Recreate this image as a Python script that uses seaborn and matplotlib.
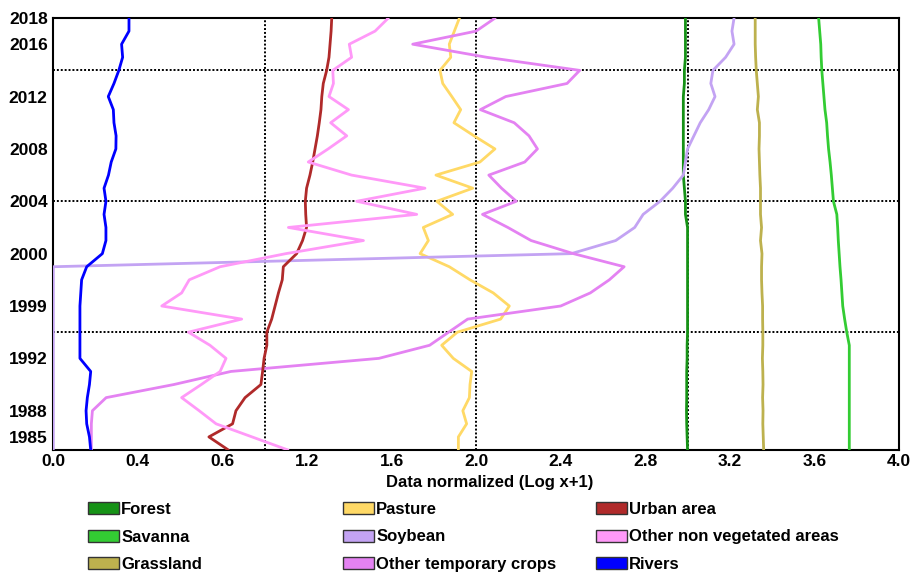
import pandas as pd
import seaborn as sns
import matplotlib.pyplot as plt
from matplotlib.patches import Patch

# === DATA (from 2018 back to 1985) ===
YEARS = list(range(2018, 1984, -1))

FOREST = [2.99, 2.99, 2.99, 2.99, 2.985, 2.985, 2.98, 2.98, 2.98, 2.98,
          2.98, 2.98, 2.98, 2.985, 2.99, 2.99, 3.0, 3.0, 3.0, 3.0,
          3.0, 3.0, 3.0, 3.0, 3.0, 2.998, 2.998, 2.996, 2.996, 2.996,
          2.995, 2.996, 2.998, 3.0]
SAVANNA = [3.62, 3.625, 3.63, 3.632, 3.635, 3.64, 3.645, 3.65, 3.658, 3.662,
           3.667, 3.674, 3.68, 3.685, 3.69, 3.706, 3.71, 3.713, 3.717, 3.721,
           3.726, 3.73, 3.734, 3.743, 3.753, 3.765, 3.765, 3.765, 3.765, 3.765,
           3.765, 3.765, 3.765, 3.765]
GRASSLAND = [3.32, 3.32, 3.32, 3.322, 3.325, 3.33, 3.335, 3.33, 3.34, 3.34,
             3.338, 3.34, 3.342, 3.345, 3.345, 3.345, 3.35, 3.345, 3.352, 3.35,
             3.35, 3.352, 3.355, 3.355, 3.356, 3.356, 3.354, 3.356, 3.357, 3.355,
             3.357, 3.356, 3.358, 3.36]
PASTURE = [1.921, 1.897, 1.873, 1.880, 1.829, 1.842, 1.885, 1.927, 1.895, 1.990,
           2.089, 2.018, 1.810, 1.984, 1.814, 1.889, 1.750, 1.774, 1.735, 1.873,
           1.971, 2.081, 2.157, 2.116, 1.911, 1.837, 1.892, 1.979, 1.971, 1.968,
           1.937, 1.955, 1.916, 1.916]
SOYBEAN = [3.22, 3.21, 3.22, 3.18, 3.12, 3.11, 3.13, 3.10, 3.06, 3.03,
           3.00, 2.99, 2.98, 2.93, 2.87, 2.79, 2.75, 2.66, 2.45, 0.0,
           0.0, 0.0, 0.0, 0.0, 0.0, 0.0, 0.0, 0.0, 0.0, 0.0,
           0.0, 0.0, 0.0, 0.0]
OTHER_TEMP_CROPS = [2.09, 2.00, 1.70, 2.05, 2.49, 2.43, 2.14, 2.02, 2.18, 2.25,
                    2.29, 2.23, 2.06, 2.12, 2.19, 2.03, 2.15, 2.26, 2.46, 2.70,
                    2.63, 2.54, 2.40, 1.96, 1.87, 1.78, 1.54, 0.84, 0.57, 0.25,
                    0.185, 0.18, 0.18, 0.18]
URBAN = [1.317, 1.314, 1.309, 1.304, 1.293, 1.277, 1.270, 1.266, 1.258, 1.249,
         1.238, 1.227, 1.214, 1.198, 1.192, 1.194, 1.198, 1.179, 1.151, 1.088,
         1.083, 1.065, 1.049, 1.033, 1.010, 1.010, 0.997, 0.990, 0.982, 0.907,
         0.864, 0.848, 0.736, 0.828]
OTHER_NON_VEG = [1.585, 1.522, 1.400, 1.411, 1.322, 1.325, 1.304, 1.396, 1.312, 1.388,
                 1.300, 1.206, 1.411, 1.758, 1.435, 1.719, 1.112, 1.467, 1.100, 0.789,
                 0.643, 0.607, 0.513, 0.891, 0.639, 0.741, 0.817, 0.789, 0.700, 0.607,
                 0.690, 0.770, 0.940, 1.110]
RIVERS = [0.358, 0.358, 0.323, 0.328, 0.310, 0.287, 0.260, 0.284, 0.287, 0.297,
          0.296, 0.274, 0.261, 0.240, 0.249, 0.240, 0.249, 0.249, 0.232, 0.158,
          0.134, 0.130, 0.126, 0.126, 0.126, 0.126, 0.126, 0.177, 0.171, 0.161,
          0.155, 0.158, 0.171, 0.177]

SERIES = {
    "Forest": FOREST,
    "Savanna": SAVANNA,
    "Grassland": GRASSLAND,
    "Pasture": PASTURE,
    "Soybean": SOYBEAN,
    "Other temporary crops": OTHER_TEMP_CROPS,
    "Urban area": URBAN,
    "Other non vegetated areas": OTHER_NON_VEG,
    "Rivers": RIVERS,
}

COLORS = {
    "Forest": "#169216",
    "Savanna": "#33cc33",
    "Grassland": "#bdb14e",
    "Pasture": "#ffd966",
    "Soybean": "#c3a3f3",
    "Other temporary crops": "#e482f2",
    "Urban area": "#b02a2a",
    "Other non vegetated areas": "#ff99f8",
    "Rivers": "#0000ff",
}

X_TICKS = [0.0, 0.4, 0.8, 1.2, 1.6, 2.0, 2.4, 2.8, 3.2, 3.6, 4.0]
X_TICK_LABELS = ["0.0", "0.4", "0.6", "1.2", "1.6", "2.0", "2.4", "2.8", "3.2", "3.6", "4.0"]
Y_TICKS = [2018, 2016, 2012, 2008, 2004, 2000, 1996, 1992, 1988, 1986]
Y_TICK_LABELS = ["2018", "2016", "2012", "2008", "2004", "2000", "1999", "1992", "1988", "1985"]
H_GRID = [2014, 2004, 1994]
V_GRID = [1.0, 2.0, 3.0]

# === PLOT ===
sns.set_theme(style="white")
plt.rcParams["font.family"] = ["Liberation Sans", "DejaVu Sans"]
plt.rcParams["font.weight"] = "bold"
for key in ["text.color", "axes.labelcolor", "xtick.color", "ytick.color"]:
    plt.rcParams[key] = "black"

df = pd.DataFrame(
    [(name, y, v) for name, vals in SERIES.items() for y, v in zip(YEARS, vals)],
    columns=["series", "year", "value"],
)

fig = plt.figure(figsize=(9.11, 5.72), dpi=100)
ax = fig.add_axes([0.0585, 0.2133, 0.9283, 0.7552])

for x in V_GRID:
    ax.axvline(x, color="black", lw=1.4, ls=(0, (1, 1)), zorder=1)
for y in H_GRID:
    ax.axhline(y, color="black", lw=1.4, ls=(0, (1, 1)), zorder=1)

sns.lineplot(data=df, x="value", y="year", hue="series", palette=COLORS,
             hue_order=list(SERIES), orient="y", sort=False, estimator=None,
             linewidth=2.0, legend=False, ax=ax, zorder=3)

ax.set_xlim(0, 4)
ax.set_ylim(1985, 2018)
ax.set_xticks(X_TICKS)
ax.set_xticklabels(X_TICK_LABELS, fontsize=12.5, fontweight="bold")
ax.set_yticks(Y_TICKS)
ax.set_yticklabels(Y_TICK_LABELS, fontsize=12.5, fontweight="bold")
ax.tick_params(axis="x", direction="inout", length=6, width=2, pad=0)
ax.tick_params(axis="y", length=0, pad=4)
ax.set_xlabel("Data normalized (Log x+1)", fontsize=12, fontweight="bold")
ax.xaxis.set_label_coords(0.516, -0.057)
ax.set_ylabel("")
for s in ax.spines.values():
    s.set_color("black")
    s.set_linewidth(1.5)

# legend: three columns under the axes
names = list(SERIES)
col_x = [88 / 911, 343 / 911, 596 / 911]
for k in range(3):
    handles = [Patch(facecolor=COLORS[n], edgecolor="#333333", linewidth=1.0, label=n)
               for n in names[3 * k:3 * k + 3]]
    leg = fig.legend(handles=handles, loc="upper left", bbox_to_anchor=(col_x[k], 1 - 502 / 572),
                     frameon=False, fontsize=12, handlelength=1.85, handleheight=0.72,
                     handletextpad=0.15, labelspacing=0.75, borderpad=0, borderaxespad=0)
    for t in leg.get_texts():
        t.set_fontweight("bold")

plt.savefig("out.png", dpi=100)
